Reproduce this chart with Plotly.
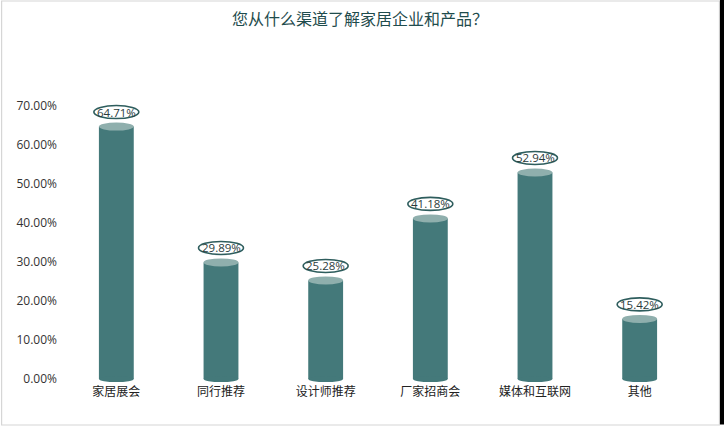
import plotly.graph_objects as go

categories = ["家居展会", "同行推荐", "设计师推荐", "厂家招商会", "媒体和互联网", "其他"]
values = [64.71, 29.89, 25.28, 41.18, 52.94, 15.42]
y_ticks = [0, 10, 20, 30, 40, 50, 60, 70]
y_tick_labels = ["%.2f%%" % t for t in y_ticks]
title_text = "您从什么渠道了解家居企业和产品？"

BAR = "#44797a"
TOP = "#8fafad"
RING = "#2e5d5d"
FONT = "Open Sans, Noto Sans CJK SC, sans-serif"
bar_w = 0.333

W, H = 724, 435
ML, MR, MT, MB = 63.5, 31.5, 102, 52
PW, PH = W - ML - MR, H - MT - MB


def px(xpix):
    return (xpix - ML) / PW


def py(ypix):
    return (H - MB - ypix) / PH


fig = go.Figure()
fig.add_trace(go.Bar(
    x=list(range(len(categories))), y=values, width=bar_w,
    marker=dict(color=BAR, line=dict(width=0)),
    hoverinfo="skip", cliponaxis=False,
))

shapes = []
annotations = []
for i, v in enumerate(values):
    shapes.append(dict(type="circle", xref="x", yref="y", ysizemode="pixel",
                       yanchor=0, y0=-3, y1=3, x0=i - bar_w / 2, x1=i + bar_w / 2,
                       fillcolor=BAR, line=dict(width=0), layer="above"))
    shapes.append(dict(type="circle", xref="x", yref="y", ysizemode="pixel",
                       yanchor=v, y0=-4, y1=4, x0=i - bar_w / 2, x1=i + bar_w / 2,
                       fillcolor=TOP, line=dict(width=0), layer="above"))
    shapes.append(dict(type="circle", xref="x", yref="y", xsizemode="pixel",
                       ysizemode="pixel", xanchor=i, yanchor=v, x0=-22.5, x1=22.5,
                       y0=8, y1=21, fillcolor="white",
                       line=dict(color=RING, width=1.6), layer="above"))
    annotations.append(dict(x=i, y=v, xref="x", yref="y", text="%.2f%%" % v,
                            showarrow=False, yshift=14.5,
                            font=dict(family=FONT, size=11.5, color="#2b3b3b")))

# outer frame
shapes.append(dict(type="rect", xref="paper", yref="paper",
                   x0=px(1), x1=px(720), y0=py(425), y1=py(1),
                   line=dict(color="#d6d6d6", width=1.2),
                   fillcolor="rgba(0,0,0,0)", layer="below"))
shapes.append(dict(type="rect", xref="paper", yref="paper",
                   x0=px(720.5), x1=px(726), y0=py(424.5), y1=py(-2),
                   line=dict(width=0), fillcolor="black", layer="above"))

annotations.append(dict(text=title_text, xref="paper", yref="paper",
                        x=px(360), y=py(18), xanchor="center", yanchor="middle",
                        showarrow=False,
                        font=dict(family="Noto Sans CJK SC", size=16, color="#1f4c4d")))

fig.update_layout(
    width=W, height=H,
    margin=dict(l=ML, r=MR, t=MT, b=MB, autoexpand=False),
    paper_bgcolor="white", plot_bgcolor="white",
    showlegend=False, bargap=0.667,
    shapes=shapes, annotations=annotations,
    font=dict(family=FONT),
)
fig.update_xaxes(
    tickvals=list(range(len(categories))), ticktext=categories,
    range=[-0.5, len(categories) - 0.5],
    showgrid=False, zeroline=False, showline=False, ticks="",
    tickfont=dict(family="Noto Sans CJK SC", size=12, color="#222"),
)
fig.update_yaxes(
    range=[-1, 71], tickvals=y_ticks, ticktext=y_tick_labels,
    showgrid=False, zeroline=False, showline=False, ticks="",
    ticklabelstandoff=6,
    tickfont=dict(family=FONT, size=12, color="#333"),
)

fig.write_html("out.html", config={"displayModeBar": False},
               post_script="document.body.style.margin='0';")
